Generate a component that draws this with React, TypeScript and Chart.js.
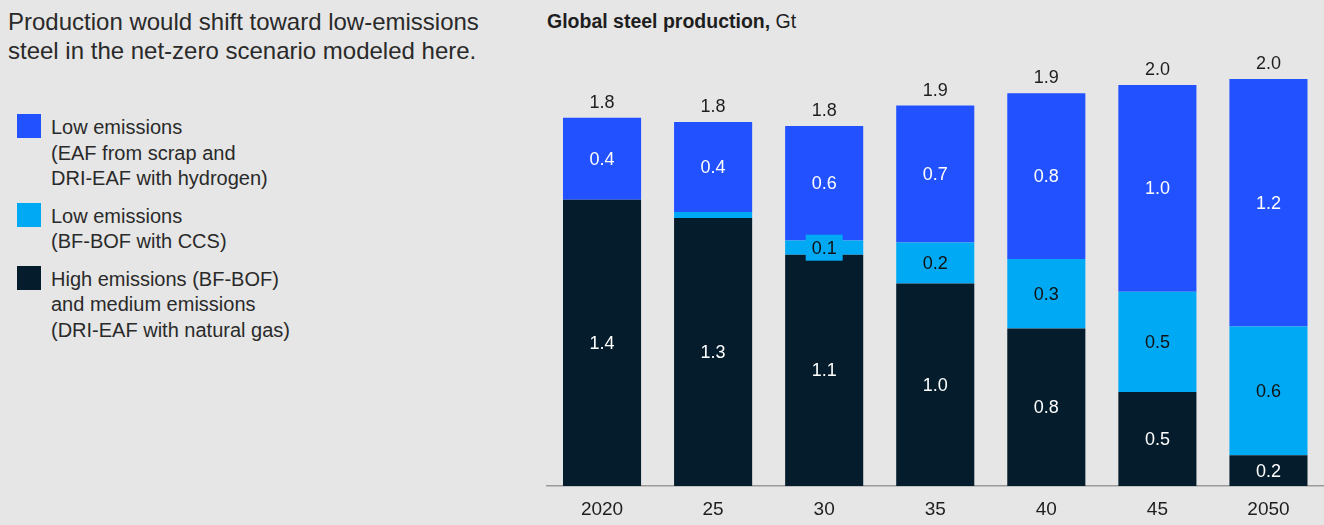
import React, { useEffect, useRef } from "react";
import { Chart, registerables } from "chart.js";

Chart.register(...registerables);

const categories = ["2020", "25", "30", "35", "40", "45", "2050"];
const highMediumEmissions = [1.40, 1.31, 1.13, 0.99, 0.77, 0.46, 0.15];
const lowEmissionsCCS = [0, 0.03, 0.07, 0.20, 0.34, 0.49, 0.63];
const lowEmissionsEAF = [0.40, 0.44, 0.56, 0.67, 0.81, 1.01, 1.21];

const labelHigh = ["High emissions (BF-BOF)", "and medium emissions", "(DRI-EAF with natural gas)"];
const labelCCS = ["Low emissions", "(BF-BOF with CCS)"];
const labelEAF = ["Low emissions", "(EAF from scrap and", "DRI-EAF with hydrogen)"];

const heading = ["Production would shift toward low-emissions", "steel in the net-zero scenario modeled here."];
const chartTitle = "Global steel production,";
const chartUnit = " Gt";

const FONT = "'Liberation Sans', Arial, sans-serif";
const BG = "#e6e6e6";
const TEXT = "#1e1e1e";

const series = [
  { label: labelHigh, data: highMediumEmissions, color: "#051c2c", text: "#ffffff" },
  { label: labelCCS, data: lowEmissionsCCS, color: "#00a9f4", text: "#111111" },
  { label: labelEAF, data: lowEmissionsEAF, color: "#2251ff", text: "#ffffff" },
];

const fmt = (v: number) => (Math.round(v * 10) / 10).toFixed(1);

const labelPlugin = {
  id: "barLabels",
  afterDatasetsDraw(chart: any) {
    const ctx = chart.ctx;
    ctx.save();
    ctx.font = `18px ${FONT}`;
    ctx.textAlign = "center";
    ctx.textBaseline = "middle";
    chart.data.datasets.forEach((ds: any, di: number) => {
      const meta = chart.getDatasetMeta(di);
      meta.data.forEach((bar: any, i: number) => {
        const v = ds.data[i] as number;
        if (v < 0.05) return;
        const { x, y, base } = bar.getProps(["x", "y", "base"], true);
        const h = base - y;
        const cy = (y + base) / 2;
        const text = fmt(v);
        if (h < 22) {
          const w = ctx.measureText(text).width + 12;
          ctx.fillStyle = ds.backgroundColor;
          ctx.fillRect(x - w / 2, cy - 13, w, 26);
        }
        ctx.fillStyle = series[di].text;
        ctx.fillText(text, x, cy + 1);
      });
    });
    const lastMeta = chart.getDatasetMeta(chart.data.datasets.length - 1);
    categories.forEach((_, i) => {
      let total = 0;
      chart.data.datasets.forEach((ds: any) => (total += ds.data[i] as number));
      const top = chart.scales.y.getPixelForValue(total);
      const x = lastMeta.data[i].x;
      ctx.fillStyle = TEXT;
      ctx.fillText(fmt(total), x, top - 15);
    });
    ctx.restore();
  },
};

export default function App() {
  const ref = useRef<HTMLCanvasElement>(null);
  useEffect(() => {
    const chart = new Chart(ref.current as HTMLCanvasElement, {
      type: "bar",
      data: {
        labels: categories,
        datasets: series.map((s) => ({
          label: s.label.join(" "),
          data: s.data,
          backgroundColor: s.color,
          borderWidth: 0,
          barPercentage: 0.703,
          categoryPercentage: 1,
        })),
      },
      options: {
        animation: false,
        responsive: false,
        maintainAspectRatio: false,
        layout: { padding: { left: 2.5, right: 0, top: 36, bottom: 0 } },
        plugins: { legend: { display: false }, tooltip: { enabled: false } },
        scales: {
          x: {
            stacked: true,
            grid: { display: false, drawTicks: false },
            border: { display: true, color: "#9a9a9a", width: 1.5 },
            ticks: { color: TEXT, font: { family: FONT, size: 19 }, padding: 12.5 },
            afterFit: (s: any) => {
              s.height = 39;
            },
          },
          y: { stacked: true, display: false, min: 0, max: 2.2 },
        },
      },
      plugins: [labelPlugin],
    } as any);
    return () => chart.destroy();
  }, []);

  const legendItems = [...series].reverse();

  return (
    <div
      style={{
        position: "fixed",
        left: 0,
        top: 0,
        width: 1324,
        height: 525,
        background: BG,
        fontFamily: FONT,
        color: TEXT,
        overflow: "hidden",
      }}
    >
      <div style={{ position: "absolute", left: 8, top: 8, fontSize: 24, lineHeight: "28.6px", color: "#2a2a2a", whiteSpace: "nowrap" }}>
        {heading.map((l, i) => (
          <div key={i}>{l}</div>
        ))}
      </div>
      <div style={{ position: "absolute", left: 17, top: 114 }}>
        {legendItems.map((s, i) => (
          <div key={i} style={{ display: "flex", alignItems: "flex-start", marginBottom: 11.2 }}>
            <div style={{ width: 24, height: 24, background: s.color, flex: "none" }} />
            <div style={{ marginLeft: 10, fontSize: 20, lineHeight: "25.5px", marginTop: 1, color: "#2a2a2a", whiteSpace: "nowrap" }}>
              {s.label.map((l, j) => (
                <div key={j}>{l}</div>
              ))}
            </div>
          </div>
        ))}
      </div>
      <div style={{ position: "absolute", left: 547, top: 9.6, fontSize: 19.5, lineHeight: "22px", whiteSpace: "nowrap" }}>
        <span style={{ fontWeight: "bold" }}>{chartTitle}</span>
        <span>{chartUnit}</span>
      </div>
      <canvas ref={ref} width={780} height={525} style={{ position: "absolute", left: 544, top: 0 }} />
    </div>
  );
}
